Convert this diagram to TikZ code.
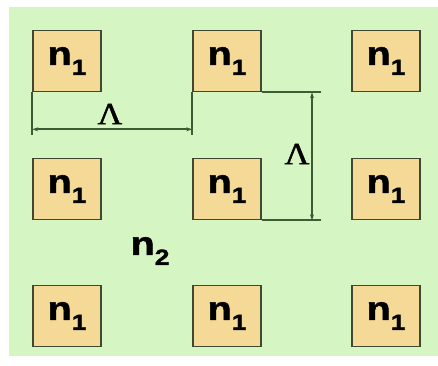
\documentclass[tikz,border=0pt]{standalone}
\usepackage{fontspec}
\setmainfont{Liberation Serif}
\newfontfamily\labfont[FakeStretch=1.2,FakeBold=1.5]{Liberation Sans}
\newfontfamily\lamfont[FakeStretch=1.1,FakeBold=1.5]{Liberation Serif}
\usetikzlibrary{arrows.meta,calc,positioning}

\definecolor{bggreen}{RGB}{213,246,194}
\definecolor{celltan}{RGB}{245,217,150}
\definecolor{edgegray}{RGB}{62,72,50}
\definecolor{dimgreen}{RGB}{60,92,52}

% index label like n_1 (subscript set low and large)
\newcommand{\nidx}[1]{{\labfont\bfseries\fontsize{33}{33}\selectfont n\raisebox{-10pt}{\fontsize{22}{22}\selectfont #1}}}

\tikzset{
  cell/.style={draw=edgegray, line width=1.6pt, fill=celltan,
    minimum width=68pt, minimum height=61pt, inner sep=0pt},
  dimline/.style={draw=dimgreen, line width=1.8pt},
  dimarrow/.style={dimline, {Stealth[length=6pt,width=4pt]}-{Stealth[length=6pt,width=4pt]}},
  lam/.style={font=\lamfont\fontsize{31}{31}\selectfont, inner sep=0pt}
}

\begin{document}
\begin{tikzpicture}[x=1pt, y=-1pt]
    \useasboundingbox (0,0) rectangle (438,365);
    % background
    \fill[bggreen] (9,7) rectangle (438,356);

    % lattice of n_1 cells
    \foreach \r/\yy in {1/61, 2/189, 3/316}
      \foreach \c/\xx in {1/67, 2/227, 3/386}
        \node[cell] (c\r\c) at (\xx,\yy) {\nidx{1}};

    % host medium
    \node[inner sep=0pt] (host) at (150,251) {\nidx{2}};

    % horizontal period
    \coordinate (hA) at ($(c11.south west)+(0,43)$);
    \coordinate (hB) at ($(c12.south west)+(0,43)$);
    \coordinate (hL) at ($(c11.south west)+(0,37)$);
    \coordinate (hR) at ($(c12.south west)+(0,37)$);
    \draw[dimline] (c11.south west) -- (hA);
    \draw[dimline] (c12.south west) -- (hB);
    \draw[dimarrow] (hL) -- (hR);
    \node[lam] (lamh) at (110,114) {Λ};

    % vertical period
    \coordinate (vA) at (c12.south east -| 321,0);
    \coordinate (vB) at (c22.south east -| 321,0);
    \coordinate (vT) at (c12.south east -| 312,0);
    \coordinate (vD) at (c22.south east -| 312,0);
    \draw[dimline] (c12.south east) -- (vA);
    \draw[dimline] (c22.south east) -- (vB);
    \draw[dimarrow] (vT) -- (vD);
    \node[lam] (lamv) at (297,154) {Λ};
\end{tikzpicture}
\end{document}
